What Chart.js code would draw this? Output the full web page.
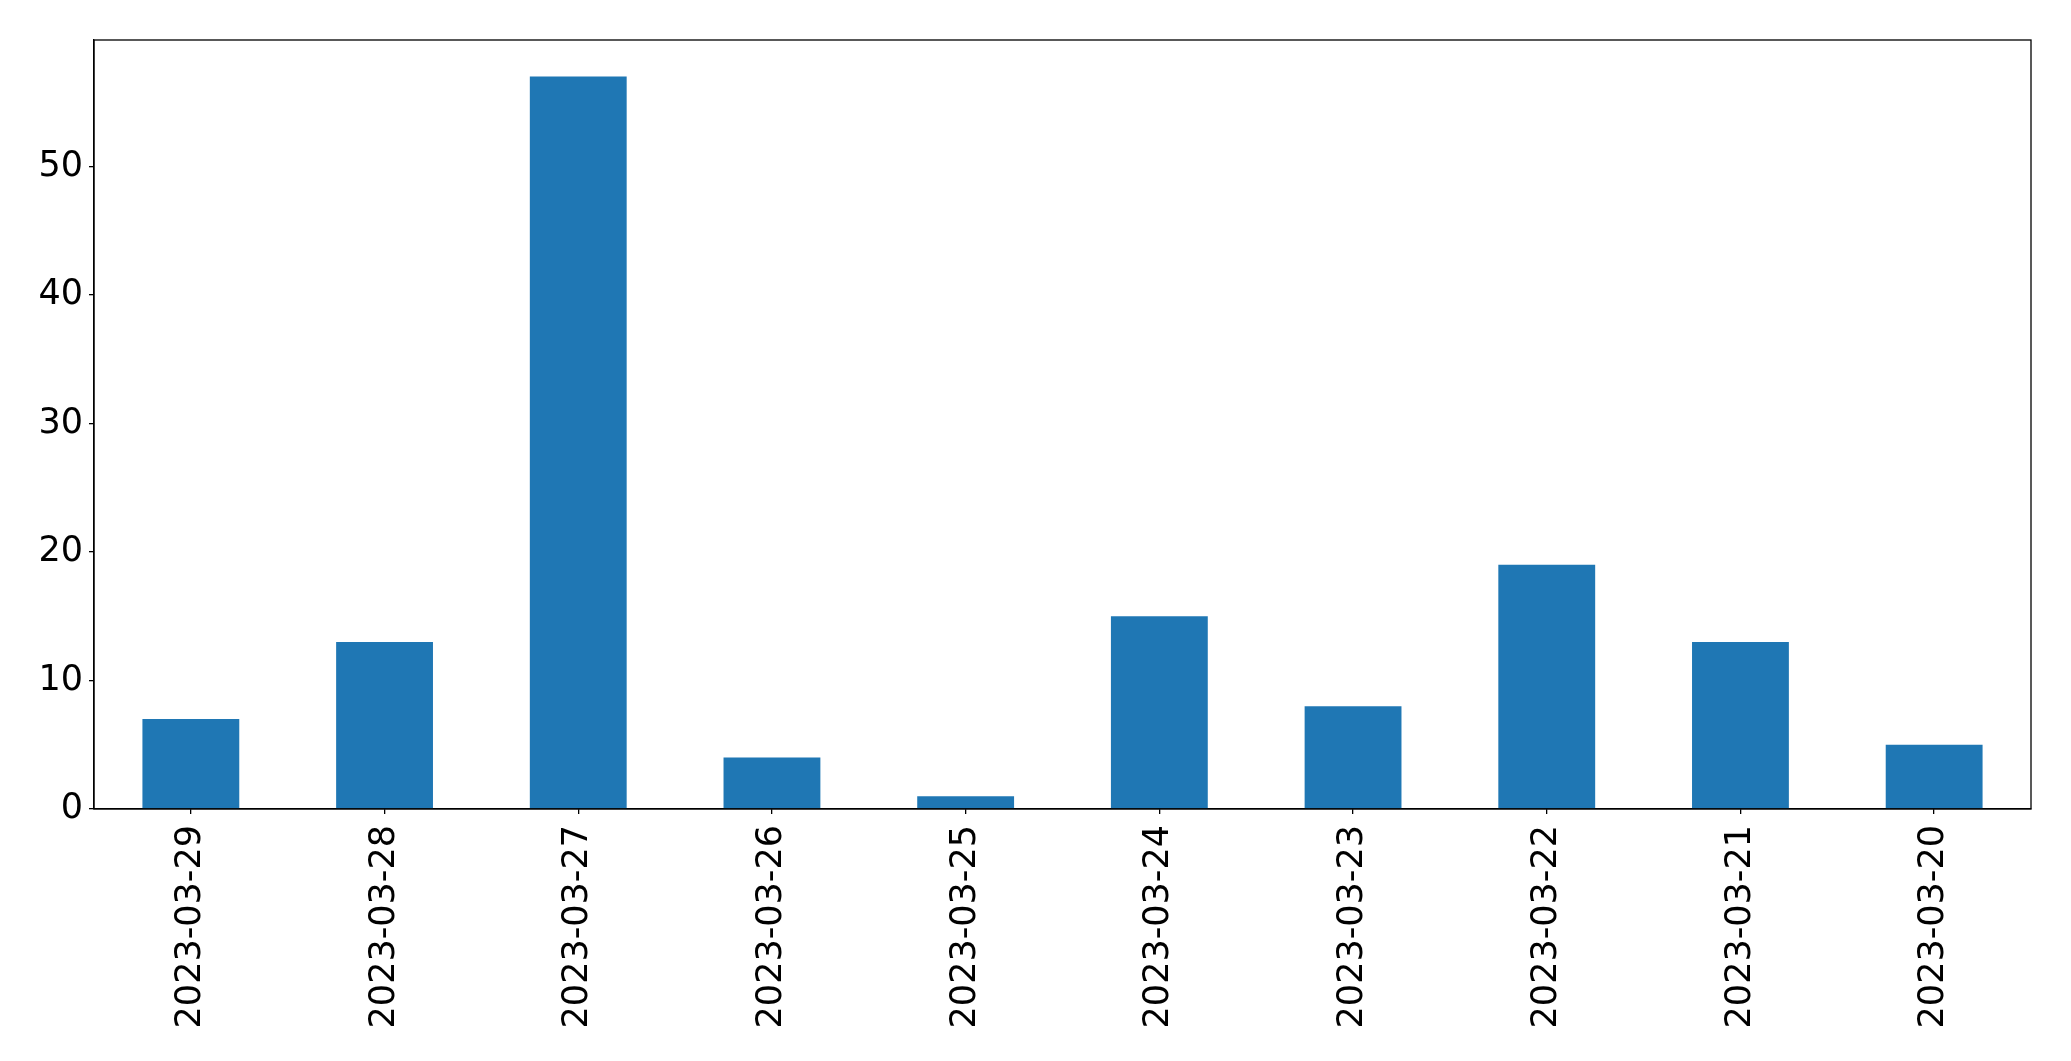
<!DOCTYPE html>
<html>
<head>
<meta charset="utf-8">
<script src="https://cdn.jsdelivr.net/npm/chart.js@4/dist/chart.umd.min.js"></script>
<style>
    html, body { margin: 0; padding: 0; background: #fff; }
    #wrap { width: 2071px; height: 1061px; }
</style>
</head>
<body>
<div id="wrap"><canvas id="barChart" width="2071" height="1061"></canvas></div>
<script>
const dates = ['2023-03-29', '2023-03-28', '2023-03-27', '2023-03-26', '2023-03-25',
               '2023-03-24', '2023-03-23', '2023-03-22', '2023-03-21', '2023-03-20'];
const counts = [7, 13, 57, 4, 1, 15, 8, 19, 13, 5];
const yTicks = [0, 10, 20, 30, 40, 50];
const yMax = 59.85;

// full box around the plot area, like the matplotlib spines
const frame = {
    id: 'frame',
    afterDraw(chart) {
        const { ctx, chartArea: a } = chart;
        ctx.save();
        ctx.strokeStyle = '#000';
        ctx.lineWidth = 1.3;
        ctx.strokeRect(a.left, a.top, a.right - a.left, a.bottom - a.top);
        ctx.restore();
    }
};

const tickFont = { family: 'DejaVu Sans', size: 35 };

new Chart(document.getElementById('barChart').getContext('2d'), {
    type: 'bar',
    data: {
        labels: dates,
        datasets: [{
            data: counts,
            backgroundColor: '#1f77b4',
            borderWidth: 0,
            categoryPercentage: 1.0,
            barPercentage: 0.5
        }]
    },
    options: {
        responsive: false,
        animation: false,
        layout: { padding: { top: 40, right: 40, left: 0, bottom: 0 } },
        plugins: {
            legend: { display: false },
            tooltip: { enabled: false }
        },
        scales: {
            x: {
                grid: { display: true, offset: false, drawOnChartArea: false, drawTicks: true, tickLength: 5, color: '#000', lineWidth: 1.3 },
                border: { display: true, color: '#000', width: 1.3 },
                ticks: { color: '#000', font: tickFont, minRotation: 90, maxRotation: 90, padding: 11, autoSkip: false },
                afterFit(scale) { scale.height = 252; }
            },
            y: {
                min: 0,
                max: yMax,
                grid: { display: true, drawOnChartArea: false, drawTicks: true, tickLength: 5, color: '#000', lineWidth: 1.3 },
                border: { display: true, color: '#000', width: 1.3 },
                ticks: { color: '#000', font: tickFont, padding: 6, stepSize: 10, includeBounds: false },
                afterBuildTicks(scale) { scale.ticks = yTicks.map(v => ({ value: v })); },
                afterFit(scale) { scale.width = 94; }
            }
        }
    },
    plugins: [frame]
});
</script>
</body>
</html>
